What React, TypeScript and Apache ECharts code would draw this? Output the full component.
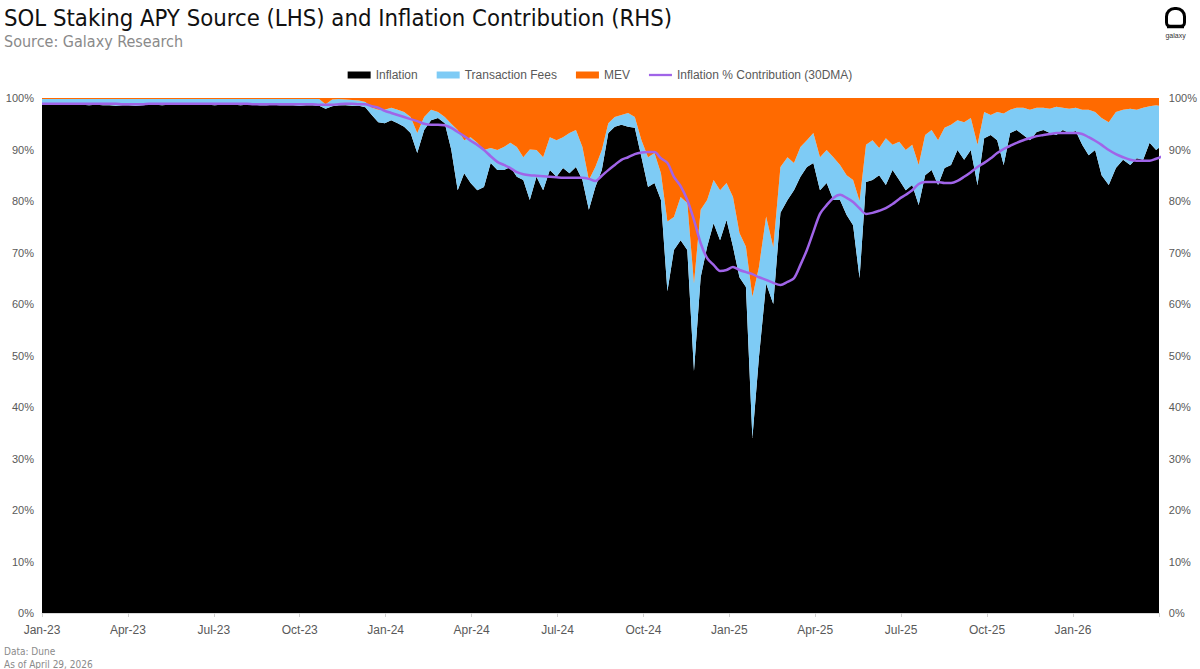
import React, { useEffect, useRef } from "react";
import * as echarts from "echarts";

// Weekly observation dates (start 2023-01-01, 7-day step)
const START_DATE = "2023-01-01";
const N_WEEKS = 171;
const DATES: string[] = Array.from({ length: N_WEEKS }, (_, i) =>
  new Date(Date.parse(START_DATE + "T00:00:00Z") + i * 7 * 86400000).toISOString().slice(0, 10)
);

const TICK_LABELS = ["Jan-23", "Apr-23", "Jul-23", "Oct-23", "Jan-24", "Apr-24", "Jul-24", "Oct-24", "Jan-25", "Apr-25", "Jul-25", "Oct-25", "Jan-26", ""];

const INFLATION = [
  98.8, 98.8, 98.7, 98.8, 98.8, 98.7, 98.7, 98.6, 98.7, 98.6,
  98.6, 98.5, 98.6, 98.6, 98.5, 98.6, 98.7, 98.7, 98.6, 98.7,
  98.7, 98.7, 98.8, 98.7, 98.7, 98.7, 98.6, 98.7, 98.7, 98.7,
  98.6, 98.7, 98.7, 98.6, 98.6, 98.7, 98.6, 98.6, 98.6, 98.5,
  98.6, 98.6, 98.5, 97.9, 98.4, 98.6, 98.6, 98.5, 98.5, 98.2,
  96.7, 95.3, 95.1, 95.7, 95.1, 94.4, 93.2, 89.3, 93.8, 95.7,
  96.1, 95.1, 90.0, 82.1, 85.4, 83.5, 82.1, 82.7, 87.4, 86.0,
  86.0, 86.6, 84.7, 84.1, 80.2, 84.7, 82.1, 86.0, 84.7, 86.4,
  85.4, 86.6, 84.1, 78.3, 82.7, 86.0, 93.2, 94.4, 94.8, 94.4,
  94.2, 88.5, 82.7, 83.5, 80.2, 62.5, 70.5, 72.4, 70.5, 47.0,
  65.2, 71.1, 75.7, 72.4, 76.3, 71.1, 65.2, 63.3, 34.0, 49.7,
  64.0, 60.0, 77.7, 80.2, 82.1, 84.7, 86.6, 87.4, 82.1, 83.5,
  80.2, 80.2, 77.3, 75.3, 65.0, 83.7, 84.1, 85.0, 83.1, 86.0,
  84.1, 82.1, 83.1, 79.2, 85.0, 86.0, 83.1, 86.4, 87.0, 89.9,
  88.0, 89.9, 83.1, 92.2, 92.8, 91.8, 87.0, 93.2, 93.8, 92.8,
  91.8, 93.4, 93.8, 93.2, 92.8, 93.8, 93.2, 93.6, 90.9, 88.9,
  89.9, 85.0, 83.1, 86.4, 88.0, 87.0, 88.3, 88.0, 91.3, 89.9,
  90.9,
];

const TX_FEES = [
  1.0, 1.0, 1.1, 1.0, 1.0, 1.1, 1.1, 1.2, 1.1, 1.2,
  1.2, 1.3, 1.2, 1.2, 1.3, 1.2, 1.1, 1.1, 1.2, 1.1,
  1.1, 1.1, 1.0, 1.1, 1.1, 1.1, 1.2, 1.1, 1.1, 1.1,
  1.2, 1.1, 1.1, 1.2, 1.2, 1.1, 1.2, 1.2, 1.2, 1.3,
  1.2, 1.2, 1.3, 0.9, 1.3, 1.2, 1.1, 1.1, 1.0, 1.0,
  1.4, 2.4, 2.6, 2.4, 2.6, 2.9, 3.1, 3.9, 2.5, 2.0,
  1.2, 1.2, 5.0, 11.7, 6.4, 8.9, 9.2, 7.2, 2.9, 3.9,
  4.5, 4.7, 5.8, 4.4, 9.8, 5.2, 6.4, 6.4, 7.1, 6.0,
  7.8, 7.2, 6.4, 5.8, 3.9, 3.9, 1.9, 1.9, 1.9, 2.7,
  2.1, 3.3, 5.8, 5.8, 5.2, 13.5, 6.4, 8.4, 9.1, 17.0,
  13.1, 9.1, 8.4, 9.7, 7.2, 9.7, 8.6, 7.8, 27.4, 17.5,
  13.0, 11.0, 8.9, 8.3, 5.3, 5.8, 5.2, 5.8, 6.4, 6.4,
  8.3, 6.8, 7.7, 8.8, 15.0, 7.2, 7.7, 5.3, 9.1, 4.9,
  7.4, 7.8, 7.8, 7.8, 7.8, 7.8, 8.7, 7.8, 7.8, 5.8,
  7.3, 6.2, 7.8, 5.1, 3.9, 5.5, 10.0, 4.5, 4.3, 5.3,
  5.9, 4.7, 4.3, 4.7, 5.5, 4.3, 4.7, 4.5, 6.8, 8.8,
  7.4, 11.1, 12.2, 10.9, 9.7, 10.9, 9.4, 10.1, 7.1, 8.7,
  7.5,
];

const MEV = [
  0.2, 0.2, 0.2, 0.2, 0.2, 0.2, 0.2, 0.2, 0.2, 0.2,
  0.2, 0.2, 0.2, 0.2, 0.2, 0.2, 0.2, 0.2, 0.2, 0.2,
  0.2, 0.2, 0.2, 0.2, 0.2, 0.2, 0.2, 0.2, 0.2, 0.2,
  0.2, 0.2, 0.2, 0.2, 0.2, 0.2, 0.2, 0.2, 0.2, 0.2,
  0.2, 0.2, 0.2, 1.2, 0.3, 0.2, 0.3, 0.4, 0.5, 0.8,
  1.9, 2.3, 2.3, 1.9, 2.3, 2.7, 3.7, 6.8, 3.7, 2.3,
  2.7, 3.7, 5.0, 6.2, 8.2, 7.6, 8.7, 10.1, 9.7, 10.1,
  9.5, 8.7, 9.5, 11.5, 10.0, 10.1, 11.5, 7.6, 8.2, 7.6,
  6.8, 6.2, 9.5, 15.9, 13.4, 10.1, 4.9, 3.7, 3.3, 2.9,
  3.7, 8.2, 11.5, 10.7, 14.6, 24.0, 23.1, 19.2, 20.4, 36.0,
  21.7, 19.8, 15.9, 17.9, 16.5, 19.2, 26.2, 28.9, 38.6, 32.8,
  23.0, 29.0, 13.4, 11.5, 12.6, 9.5, 8.2, 6.8, 11.5, 10.1,
  11.5, 13.0, 15.0, 15.9, 20.0, 9.1, 8.2, 9.7, 7.8, 9.1,
  8.5, 10.1, 9.1, 13.0, 7.2, 6.2, 8.2, 5.8, 5.2, 4.3,
  4.7, 3.9, 9.1, 2.7, 3.3, 2.7, 3.0, 2.3, 1.9, 1.9,
  2.3, 1.9, 1.9, 2.1, 1.7, 1.9, 2.1, 1.9, 2.3, 2.3,
  2.7, 3.9, 4.7, 2.7, 2.3, 2.1, 2.3, 1.9, 1.6, 1.4,
  1.6,
];

const INFLATION_30DMA = [
  98.9, 98.9, 98.9, 98.9, 98.9, 98.9, 98.9, 98.9, 98.9, 98.9,
  98.9, 98.9, 98.8, 98.8, 98.8, 98.8, 98.9, 98.9, 98.9, 98.9,
  98.9, 98.9, 98.9, 98.9, 98.9, 98.9, 98.9, 98.9, 98.9, 98.9,
  98.9, 98.9, 98.8, 98.8, 98.8, 98.8, 98.8, 98.8, 98.8, 98.8,
  98.8, 98.8, 98.7, 98.7, 98.7, 98.8, 98.9, 98.9, 98.8, 98.8,
  98.4, 98.1, 97.5, 97.1, 96.7, 96.3, 95.9, 95.5, 95.0, 94.8,
  94.8, 94.7, 94.2, 93.4, 92.6, 91.7, 90.9, 89.9, 88.7, 87.6,
  87.0, 86.4, 85.6, 85.2, 85.0, 84.9, 84.8, 84.7, 84.6, 84.5,
  84.5, 84.5, 84.5, 84.3, 83.9, 84.9, 86.0, 87.0, 88.0, 88.5,
  89.1, 89.4, 89.5, 89.5, 88.3, 87.4, 84.7, 82.9, 80.2, 76.3,
  71.8, 68.9, 67.6, 66.4, 66.6, 67.2, 66.6, 66.2, 65.8, 65.2,
  64.7, 64.1, 63.7, 64.3, 65.0, 67.6, 70.5, 74.0, 77.5, 79.2,
  80.6, 81.2, 80.6, 79.8, 78.6, 77.5, 77.7, 78.1, 78.6, 79.4,
  80.4, 81.2, 82.1, 83.3, 83.7, 83.7, 83.7, 83.5, 83.5, 83.9,
  84.7, 85.6, 86.6, 87.4, 88.3, 89.3, 90.1, 90.7, 91.3, 91.8,
  92.2, 92.6, 92.8, 93.0, 93.2, 93.2, 93.2, 93.2, 93.0, 92.4,
  91.7, 90.9, 89.9, 89.1, 88.5, 88.0, 87.8, 87.8, 87.8, 88.2,
  88.7,
];

// month position since Jan 2023 (quarters are equally spaced on the axis)
function monthPos(d: string): number {
  const [y, m, day] = d.split("-").map(Number);
  const dim = new Date(Date.UTC(y, m, 0)).getUTCDate();
  return (y - 2023) * 12 + (m - 1) + (day - 1) / dim;
}

// [value, monthPosition] so that the value is the first (stacked) dimension
const rows = (vals: number[]) => vals.map((v, i) => [v, monthPos(DATES[i])]);

const FONT = "'Liberation Sans', Arial, sans-serif";
const TITLE_FONT = "'Liberation Sans Narrow', 'DejaVu Sans Condensed', 'Roboto', sans-serif";
const LINE_ICON = "path://M0,0 M0,7 M0,2.3 L24,2.3 L24,4.7 L0,4.7 Z";

export default function App() {
  const ref = useRef<HTMLDivElement>(null);
  useEffect(() => {
    if (!ref.current) return;
    const chart = echarts.init(ref.current, undefined, { renderer: "svg" });
    const axisLabel = { color: "#595959", fontSize: 11, fontFamily: FONT };
    const area = (name: string, vals: number[], color: string) => ({
      name,
      type: "line",
      stack: "apy",
      data: rows(vals),
      encode: { x: 1, y: 0 },
      symbol: "none",
      lineStyle: { width: 0 },
      itemStyle: { color },
      areaStyle: { color, opacity: 1 },
    });
    chart.setOption({
      animation: false,
      backgroundColor: "#ffffff",
      grid: { left: 42, right: 40, top: 98, bottom: 56 },
      legend: {
        top: 64,
        left: "center",
        itemWidth: 23,
        itemHeight: 7,
        itemGap: 19,
        textStyle: { color: "#595959", fontSize: 12, fontFamily: FONT },
        data: [
          { name: "Inflation", icon: "rect" },
          { name: "Transaction Fees", icon: "rect" },
          { name: "MEV", icon: "rect" },
          { name: "Inflation % Contribution (30DMA)", icon: LINE_ICON },
        ],
      },
      xAxis: {
        type: "value",
        min: 0,
        max: 39,
        interval: 3,
        axisLine: { show: true, lineStyle: { color: "#d9d9d9" } },
        axisTick: { show: true, length: 4, lineStyle: { color: "#d0d0d0" } },
        splitLine: { show: false },
        axisLabel: {
          ...axisLabel,
          fontSize: 12,
          margin: 11,
          formatter: (v: number) => TICK_LABELS[Math.round(v / 3)] ?? "",
        },
      },
      yAxis: [
        {
          type: "value",
          position: "left",
          min: 0,
          max: 100,
          interval: 10,
          axisLine: { show: false },
          axisTick: { show: false },
          splitLine: { show: false },
          axisLabel: { ...axisLabel, margin: 8, formatter: "{value}%" },
        },
        {
          type: "value",
          position: "right",
          min: 0,
          max: 100,
          interval: 10,
          axisLine: { show: false },
          axisTick: { show: false },
          splitLine: { show: false },
          axisLabel: { ...axisLabel, margin: 10, formatter: "{value}%" },
        },
      ],
      series: [
        area("Inflation", INFLATION, "#000000"),
        area("Transaction Fees", TX_FEES, "#7ECBF5"),
        area("MEV", MEV, "#FF6A00"),
        {
          name: "Inflation % Contribution (30DMA)",
          type: "line",
          yAxisIndex: 1,
          data: rows(INFLATION_30DMA),
          encode: { x: 1, y: 0 },
          symbol: "none",
          smooth: 0.3,
          z: 5,
          itemStyle: { color: "#A064E8" },
          lineStyle: { width: 2.5, color: "#A064E8" },
        },
      ],
      graphic: [
        {
          type: "text",
          left: 4,
          top: 6,
          style: {
            text: "SOL Staking APY Source (LHS) and Inflation Contribution (RHS)",
            fontSize: 23.7,
            fontFamily: TITLE_FONT,
            fill: "#111111",
          },
        },
        {
          type: "text",
          left: 4,
          top: 33,
          style: {
            text: "Source: Galaxy Research",
            fontSize: 16,
            fontFamily: TITLE_FONT,
            fill: "#8a8a8a",
          },
        },
        {
          type: "text",
          left: 4,
          top: 646,
          style: { text: "Data: Dune", fontSize: 10, fontFamily: TITLE_FONT, fill: "#8a8a8a" },
        },
        {
          type: "text",
          left: 4,
          top: 659,
          style: { text: "As of April 29, 2026", fontSize: 10, fontFamily: TITLE_FONT, fill: "#8a8a8a" },
        },
        {
          type: "group",
          x: 1165,
          y: 7,
          children: [
            {
              type: "rect",
              shape: { x: 1.5, y: 1.5, width: 18, height: 18, r: [8, 8, 4, 4] },
              style: { fill: "none", stroke: "#000000", lineWidth: 3 },
            },
            {
              type: "line",
              shape: { x1: 2, y1: 19.5, x2: 19, y2: 19.5 },
              style: { stroke: "#000000", lineWidth: 3.5 },
            },
            {
              type: "text",
              x: 10.5,
              y: 25,
              style: { text: "galaxy", fontSize: 7, fontFamily: FONT, fill: "#333333", align: "center" },
            },
          ],
        },
      ],
    });
    return () => chart.dispose();
  }, []);
  return (
    <div
      ref={ref}
      style={{ position: "fixed", left: 0, top: 0, width: 1200, height: 669, background: "#fff" }}
    />
  );
}
